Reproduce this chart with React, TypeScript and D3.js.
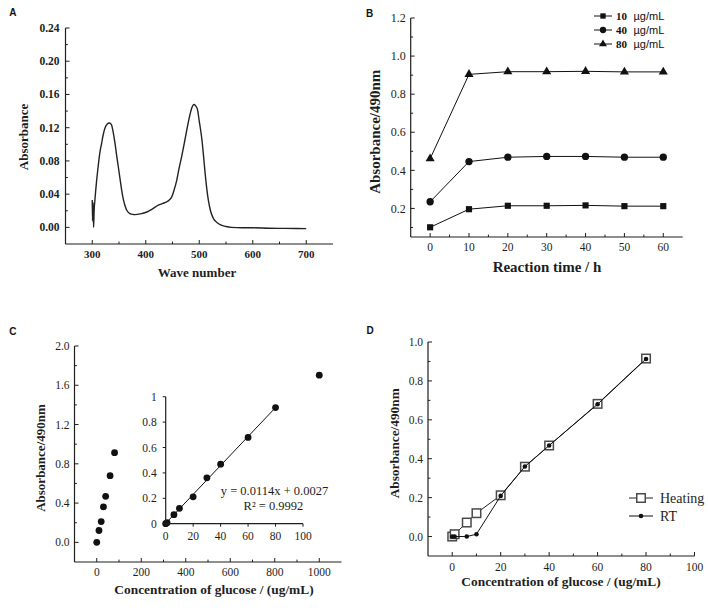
import React from 'react';
import * as d3 from 'd3';

const SERIF = '"Liberation Serif", "Times New Roman", serif';
const SANS = '"Liberation Sans", Arial, sans-serif';
const INK = '#1e1e1e';

// ---------- Panel A: absorption spectrum ----------
const specWave = [300, 300.5, 301.5, 302.5, 303.5, 305, 308, 311, 314, 317.6, 320, 323.8, 328, 332, 336, 339, 342.5, 345.5, 348.7, 352, 355, 358, 361, 365, 370.6, 375, 380, 390, 402, 412, 423.6, 432, 439, 444, 448.6, 453, 458, 462, 467, 472, 476.8, 481, 486, 488.5, 490.4, 493, 496.6, 500, 505, 508, 511, 514, 517, 521, 526.6, 533, 540, 550, 560, 580, 600, 630, 660, 700];
const specAbs = [0.033, 0.008, 0.03, 0.0, 0.02, 0.033, 0.055, 0.073, 0.089, 0.1015, 0.11, 0.1196, 0.1245, 0.1257, 0.1235, 0.115, 0.1015, 0.087, 0.073, 0.058, 0.0448, 0.034, 0.0267, 0.02, 0.0166, 0.0156, 0.0154, 0.0163, 0.0185, 0.022, 0.0267, 0.0288, 0.0307, 0.033, 0.0367, 0.045, 0.057, 0.07, 0.085, 0.101, 0.1176, 0.131, 0.1438, 0.1472, 0.148, 0.1465, 0.142, 0.128, 0.1055, 0.086, 0.065, 0.047, 0.0327, 0.02, 0.0105, 0.006, 0.003, 0.001, 0.0, -0.0005, -0.0005, -0.001, -0.0012, -0.0015];
const aXTicks = [300, 400, 500, 600, 700];
const aXMinor = [350, 450, 550, 650];
const aYTicks = [0, 0.04, 0.08, 0.12, 0.16, 0.2, 0.24];
const aYMinor = [0.02, 0.06, 0.1, 0.14, 0.18, 0.22];

// ---------- Panel B: reaction time ----------
const bTimes = [0, 10, 20, 30, 40, 50, 60];
const b10 = [0.101, 0.196, 0.214, 0.214, 0.216, 0.212, 0.212];
const b40 = [0.235, 0.446, 0.469, 0.473, 0.473, 0.469, 0.469];
const b80 = [0.461, 0.904, 0.918, 0.918, 0.92, 0.917, 0.917];
const bSeriesNames = ['10', '40', '80'];
const bUnit = 'µg/mL';
const bXTicks = [0, 10, 20, 30, 40, 50, 60];
const bXMinor = [5, 15, 25, 35, 45, 55];
const bYTicks = [0.2, 0.4, 0.6, 0.8, 1.0, 1.2];
const bYMinor = [0.1, 0.3, 0.5, 0.7, 0.9, 1.1];

// ---------- Panel C: standard curve ----------
const cConc = [0, 10, 20, 30, 40, 60, 80, 1000];
const cAbs = [0, 0.121, 0.212, 0.361, 0.469, 0.679, 0.914, 1.703];
const cXTicks = [0, 200, 400, 600, 800, 1000];
const cXMinor = [100, 300, 500, 700, 900];
const cYTicks = [0, 0.4, 0.8, 1.2, 1.6, 2.0];
const cYMinor = [0.2, 0.6, 1.0, 1.4, 1.8];
const insetConc = [0, 1, 6, 10, 20, 30, 40, 60, 80];
const insetAbs = [0, 0.008, 0.071, 0.121, 0.212, 0.361, 0.469, 0.679, 0.914];
const insetXTicks = [0, 20, 40, 60, 80, 100];
const insetYTicks = [0, 0.2, 0.4, 0.6, 0.8, 1];
const fitSlope = 0.0114;
const fitIntercept = 0.0027;
const fitR2 = '0.9992';

// ---------- Panel D: heating vs RT ----------
const dConc = [0, 1, 6, 10, 20, 30, 40, 60, 80];
const dHeating = [0, 0.012, 0.072, 0.12, 0.212, 0.359, 0.468, 0.682, 0.915];
const dRT = [0, 0, 0, 0.012, 0.209, 0.36, 0.468, 0.68, 0.913];
const dSeriesNames = ['Heating', 'RT'];
const dXTicks = [0, 20, 40, 60, 80, 100];
const dXMinor = [10, 30, 50, 70, 90];
const dYTicks = [0, 0.2, 0.4, 0.6, 0.8, 1.0];
const dYMinor = [0.1, 0.3, 0.5, 0.7, 0.9];

type Lin = d3.ScaleLinear<number, number>;

function XAxis(p: { scale: Lin; y: number; ticks: number[]; minor?: number[]; fmt: (v: number) => string; size: number; weight?: string; dir?: number; len?: number; off?: number }) {
  const { scale, y, ticks, minor = [], fmt, size, weight = 'normal', dir = -1, len = 4, off = 10.5 } = p;
  const [r0, r1] = scale.range();
  return (
    <g>
      <line x1={r0} x2={r1} y1={y} y2={y} stroke={INK} strokeWidth={1.2} />
      {ticks.map((t) => (
        <line key={'M' + t} x1={scale(t)} x2={scale(t)} y1={y} y2={y + dir * len} stroke={INK} strokeWidth={1} />
      ))}
      {minor.map((t) => (
        <line key={'m' + t} x1={scale(t)} x2={scale(t)} y1={y} y2={y + dir * len * 0.6} stroke={INK} strokeWidth={1} />
      ))}
      {ticks.map((t) => (
        <text key={'L' + t} x={scale(t)} y={y + off} dy="0.35em" textAnchor="middle" fontFamily={SERIF} fontSize={size} fontWeight={weight} fill={INK}>
          {fmt(t)}
        </text>
      ))}
    </g>
  );
}

function YAxis(p: { scale: Lin; x: number; ticks: number[]; minor?: number[]; fmt: (v: number) => string; size: number; weight?: string; dir?: number; len?: number; off?: number }) {
  const { scale, x, ticks, minor = [], fmt, size, weight = 'normal', dir = 1, len = 4, off = 5 } = p;
  const [r0, r1] = scale.range();
  return (
    <g>
      <line x1={x} x2={x} y1={r0} y2={r1} stroke={INK} strokeWidth={1.2} />
      {ticks.map((t) => (
        <line key={'M' + t} x1={x} x2={x + dir * len} y1={scale(t)} y2={scale(t)} stroke={INK} strokeWidth={1} />
      ))}
      {minor.map((t) => (
        <line key={'m' + t} x1={x} x2={x + dir * len * 0.6} y1={scale(t)} y2={scale(t)} stroke={INK} strokeWidth={1} />
      ))}
      {ticks.map((t) => (
        <text key={'L' + t} x={x - off} y={scale(t)} dy="0.35em" textAnchor="end" fontFamily={SERIF} fontSize={size} fontWeight={weight} fill={INK}>
          {fmt(t)}
        </text>
      ))}
    </g>
  );
}

function Title(p: { x: number; y: number; text: string; size: number; weight?: string; rotate?: boolean }) {
  const { x, y, text, size, weight = 'bold', rotate = false } = p;
  return (
    <text
      x={x}
      y={y}
      dy="0.35em"
      textAnchor="middle"
      fontFamily={SERIF}
      fontSize={size}
      fontWeight={weight}
      fill={INK}
      transform={rotate ? `rotate(-90 ${x} ${y})` : undefined}
    >
      {text}
    </text>
  );
}

function PanelLetter(p: { x: number; y: number; t: string }) {
  return (
    <text x={p.x} y={p.y} fontFamily={SANS} fontWeight="bold" fontSize={10} fill="#111">
      {p.t}
    </text>
  );
}

const f2 = d3.format('.2f');
const f1 = d3.format('.1f');
const fInt = d3.format('d');
const fInset = (v: number) => String(v);

function PanelA() {
  const x = d3.scaleLinear().domain([250, 750]).range([65.5, 333]);
  const y = d3.scaleLinear().domain([-0.02, 0.24]).range([244, 28]);
  const pts = specWave.map((w, i) => [w, specAbs[i]] as [number, number]);
  const line = d3.line<[number, number]>().x((d) => x(d[0])).y((d) => y(d[1])).curve(d3.curveMonotoneX);
  return (
    <g>
      <PanelLetter x={9.3} y={16} t="A" />
      <path d={line(pts) || ''} fill="none" stroke="#222" strokeWidth={1.4} />
      <XAxis scale={x} y={244} ticks={aXTicks} minor={aXMinor} fmt={fInt} size={11} weight="bold" off={10.5} />
      <YAxis scale={y} x={65.5} ticks={aYTicks} minor={aYMinor} fmt={f2} size={11.5} weight="bold" off={6} />
      <Title x={197} y={272} text="Wave number" size={13} />
      <Title x={23} y={137} text="Absorbance" size={13} rotate />
    </g>
  );
}

function marker(shape: string, size: number) {
  const t = shape === 'square' ? d3.symbolSquare : shape === 'circle' ? d3.symbolCircle : d3.symbolTriangle;
  return d3.symbol().type(t).size(size)() || '';
}

function PanelB() {
  const x = d3.scaleLinear().domain([-5, 65]).range([410.7, 682.7]);
  const y = d3.scaleLinear().domain([0.05, 1.2]).range([237, 18]);
  const series = [
    { name: bSeriesNames[0], vals: b10, shape: 'square', size: 38 },
    { name: bSeriesNames[1], vals: b40, shape: 'circle', size: 42 },
    { name: bSeriesNames[2], vals: b80, shape: 'triangle', size: 36 },
  ];
  const line = d3.line<number>().x((_, i) => x(bTimes[i])).y((d) => y(d));
  return (
    <g>
      <PanelLetter x={366} y={16.5} t="B" />
      {series.map((s) => (
        <g key={s.name}>
          <path d={line(s.vals) || ''} fill="none" stroke="#111" strokeWidth={1} />
          {s.vals.map((v, i) => (
            <path key={i} d={marker(s.shape, s.size)} transform={`translate(${x(bTimes[i])},${y(v)})`} fill="#111" />
          ))}
        </g>
      ))}
      <XAxis scale={x} y={237} ticks={bXTicks} minor={bXMinor} fmt={fInt} size={11.5} off={10} />
      <YAxis scale={y} x={410.7} ticks={bYTicks} minor={bYMinor} fmt={f1} size={12} off={5} />
      <Title x={547} y={266.5} text="Reaction time / h" size={15} />
      <Title x={374.7} y={131.7} text="Absorbance/490nm" size={15} rotate />
      {series.map((s, i) => {
        const ry = 16 + i * 14;
        return (
          <g key={'lg' + s.name}>
            <line x1={594} x2={612} y1={ry} y2={ry} stroke="#111" strokeWidth={1} />
            <path d={marker(s.shape, s.size * 0.75)} transform={`translate(603,${ry})`} fill="#111" />
            <text x={616} y={ry} dy="0.35em" fontFamily={SERIF} fontWeight="bold" fontSize={11} fill="#111">
              {s.name}
            </text>
            <text x={633.5} y={ry} dy="0.35em" fontFamily={SANS} fontSize={11} fill="#111">
              {bUnit}
            </text>
          </g>
        );
      })}
    </g>
  );
}

function PanelC() {
  const x = d3.scaleLinear().domain([-100, 1100]).range([74.5, 341.5]);
  const y = d3.scaleLinear().domain([-0.2, 2.0]).range([562, 346]);
  const ix = d3.scaleLinear().domain([0, 100]).range([165.7, 303]);
  const iy = d3.scaleLinear().domain([0, 1]).range([523.7, 396.7]);
  const fitX = [insetConc[0], insetConc[insetConc.length - 1]];
  return (
    <g>
      <PanelLetter x={9.3} y={335} t="C" />
      {cConc.map((c, i) => (
        <circle key={'c' + i} cx={x(c)} cy={y(cAbs[i])} r={3.4} fill="#111" />
      ))}
      <XAxis scale={x} y={562} ticks={cXTicks} minor={cXMinor} fmt={fInt} size={11.5} off={10} />
      <YAxis scale={y} x={74.5} ticks={cYTicks} minor={cYMinor} fmt={f1} size={11.5} off={5} />
      <Title x={214} y={589} text="Concentration of glucose / (ug/mL)" size={13.4} />
      <Title x={40.7} y={458} text="Absorbance/490nm" size={13} rotate />
      {/* inset */}
      <line
        x1={ix(fitX[0])}
        y1={iy(fitSlope * fitX[0] + fitIntercept)}
        x2={ix(fitX[1])}
        y2={iy(fitSlope * fitX[1] + fitIntercept)}
        stroke="#111"
        strokeWidth={1}
      />
      {insetConc.map((c, i) => (
        <circle key={'i' + i} cx={ix(c)} cy={iy(insetAbs[i])} r={3.4} fill="#111" />
      ))}
      <XAxis scale={ix} y={523.7} ticks={insetXTicks} fmt={fInt} size={11.5} dir={1} len={3} off={12} />
      <YAxis scale={iy} x={165.7} ticks={insetYTicks} fmt={fInset} size={11.5} dir={-1} len={3} off={9} />
      <text x={274.5} y={491} dy="0.35em" textAnchor="middle" fontFamily={SERIF} fontSize={12.5} fill={INK}>
        {`y = ${fitSlope}x + ${fitIntercept}`}
      </text>
      <text x={273.5} y={506} dy="0.35em" textAnchor="middle" fontFamily={SERIF} fontSize={12.5} fill={INK}>
        {`R² = ${fitR2}`}
      </text>
    </g>
  );
}

function PanelD() {
  const x = d3.scaleLinear().domain([-10, 100]).range([428, 694.5]);
  const y = d3.scaleLinear().domain([-0.1, 1.0]).range([556, 342]);
  const line = d3.line<number>().x((_, i) => x(dConc[i])).y((d) => y(d));
  const sq = 8.5;
  return (
    <g>
      <PanelLetter x={366.5} y={334} t="D" />
      <path d={line(dHeating) || ''} fill="none" stroke="#222" strokeWidth={1} />
      {dHeating.map((v, i) => (
        <rect key={'h' + i} x={x(dConc[i]) - sq / 2} y={y(v) - sq / 2} width={sq} height={sq} fill="#fff" stroke="#4a4a4a" strokeWidth={1.5} />
      ))}
      <path d={line(dRT) || ''} fill="none" stroke="#111" strokeWidth={1} />
      {dRT.map((v, i) => (
        <circle key={'r' + i} cx={x(dConc[i])} cy={y(v)} r={2.3} fill="#111" />
      ))}
      <XAxis scale={x} y={556} ticks={dXTicks} minor={dXMinor} fmt={fInt} size={11.5} off={10.5} />
      <YAxis scale={y} x={428} ticks={dYTicks} minor={dYMinor} fmt={f1} size={11.5} off={5} />
      <Title x={561} y={581} text="Concentration of glucose / (ug/mL)" size={13.4} />
      <Title x={394.7} y={443.3} text="Absorbance/490nm" size={13.3} rotate />
      {/* legend */}
      <line x1={629} x2={653} y1={498} y2={498} stroke="#222" strokeWidth={1} />
      <rect x={641 - sq / 2} y={498 - sq / 2} width={sq} height={sq} fill="#fff" stroke="#4a4a4a" strokeWidth={1.5} />
      <text x={660} y={498} dy="0.35em" fontFamily={SERIF} fontSize={14} fill={INK}>
        {dSeriesNames[0]}
      </text>
      <line x1={629} x2={653} y1={516} y2={516} stroke="#111" strokeWidth={1} />
      <circle cx={641} cy={516} r={2.3} fill="#111" />
      <text x={660} y={516} dy="0.35em" fontFamily={SERIF} fontSize={14} fill={INK}>
        {dSeriesNames[1]}
      </text>
    </g>
  );
}

export default function App() {
  return (
    <svg width={708} height={611} viewBox="0 0 708 611" style={{ position: 'absolute', left: 0, top: 0, background: '#fff' }}>
      <rect x={0} y={0} width={708} height={611} fill="#fff" />
      <PanelA />
      <PanelB />
      <PanelC />
      <PanelD />
    </svg>
  );
}
